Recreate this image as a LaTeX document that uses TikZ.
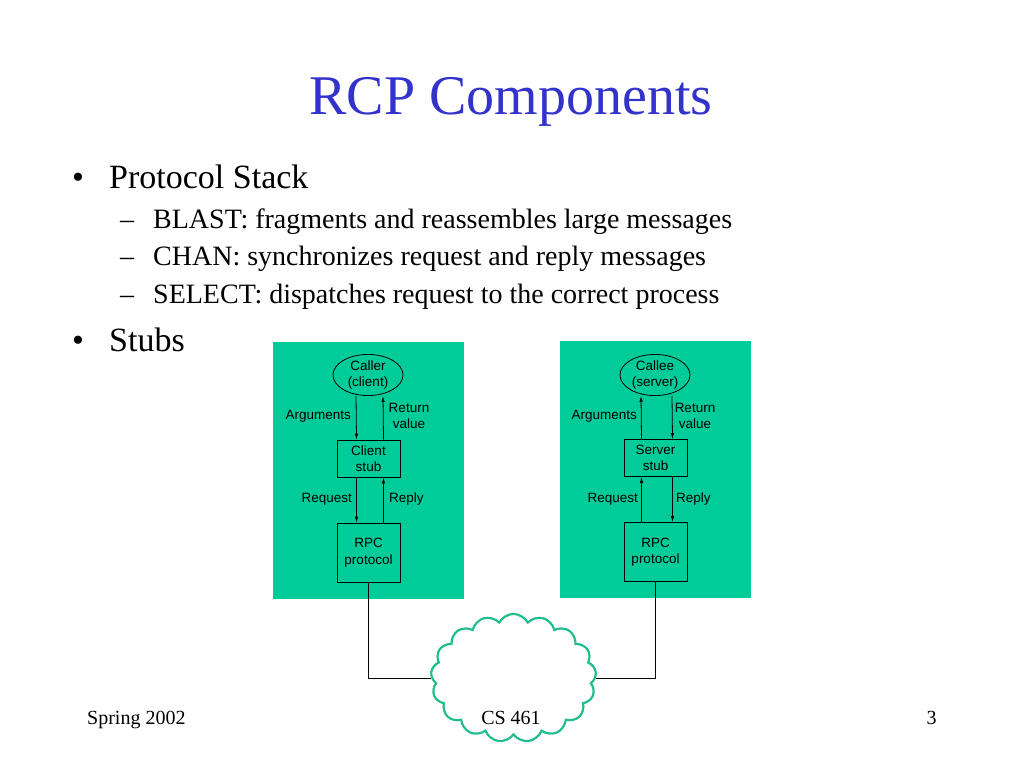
\documentclass[tikz,border=0pt]{standalone}
\usepackage{fontspec}
\setmainfont{Liberation Serif}
\newfontfamily\diagfont{Liberation Sans}
\usetikzlibrary{shapes.geometric,shapes.symbols,arrows.meta}
\definecolor{hostgreen}{RGB}{0,204,153}
\definecolor{cloudgreen}{RGB}{30,190,140}
\definecolor{titleblue}{RGB}{51,51,204}
\tikzset{
  hostbox/.style={fill=hostgreen},
  lbl/.style={font=\diagfont\fontsize{13.5}{16.5}\selectfont, inner sep=0, align=center},
  caller/.style={lbl, ellipse, draw, line width=0.8pt, minimum width=70, minimum height=39},
  stubbox/.style={lbl, draw, line width=0.8pt, minimum width=63, minimum height=37},
  rpcbox/.style={lbl, draw, line width=0.8pt, minimum width=63, minimum height=59},
  flow/.style={line width=0.8pt, -{Latex[length=6pt,width=3.5pt]}},
  netcloud/.style={cloud, cloud puffs=17, cloud puff arc=125, aspect=1.3, draw=cloudgreen, line width=2pt, minimum width=165, minimum height=128, inner sep=0},
  bigitem/.style={anchor=base west, inner sep=0, font=\fontsize{34}{40}\selectfont},
  subitem/.style={anchor=base west, inner sep=0, font=\fontsize{28}{34}\selectfont},
  foot/.style={anchor=base, inner sep=0, font=\fontsize{20}{24}\selectfont}
}
\begin{document}
\begin{tikzpicture}[x=1pt,y=-1pt]
  \useasboundingbox (0,0) rectangle (1024,768);
  % slide text
  \node[anchor=base, inner sep=0, text=titleblue, font=\fontsize{56}{64}\selectfont] (title) at (511,114) {RCP Components};
  \node[bigitem] (dot1) at (72,188) {\textbullet};
  \node[bigitem] (stack) at (109,188) {Protocol Stack};
  \node[subitem] (dash1) at (120,228) {--};
  \node[subitem] (blast) at (153,228) {BLAST: fragments and reassembles large messages};
  \node[subitem] (dash2) at (120,265) {--};
  \node[subitem] (chan) at (153,265) {CHAN: synchronizes request and reply messages};
  \node[subitem] (dash3) at (120,303) {--};
  \node[subitem] (select) at (153,303) {SELECT: dispatches request to the correct process};
  \node[bigitem] (dot2) at (72,351) {\textbullet};
  \node[bigitem] (stubs) at (109,351) {Stubs};
  % hosts
  \fill[hostbox] (273,342) rectangle (464,599);
  \fill[hostbox] (560,341) rectangle (751,598);
  \node[caller] (caller) at (368,375) {Caller\\(client)};
  \node[stubbox] (cstub) at (368.5,458.5) {Client\\stub};
  \node[rpcbox] (crpc) at (368.5,552.5) {RPC\\protocol};
  \node[caller] (callee) at (655,375) {Callee\\(server)};
  \node[stubbox] (sstub) at (655.5,458) {Server\\stub};
  \node[rpcbox] (srpc) at (655.5,552) {RPC\\protocol};
  \begin{scope}
    \draw[flow] ([xshift=-12]caller.south) -- ([xshift=-12]cstub.north);
    \draw[flow] ([xshift=15]cstub.north) -- ([xshift=15]caller.south);
    \draw[flow] ([xshift=-12]cstub.south) -- ([xshift=-12]crpc.north);
    \draw[flow] ([xshift=15]crpc.north) -- ([xshift=15]cstub.south);
    \draw[flow] ([xshift=-14]sstub.north) -- ([xshift=-14]callee.south);
    \draw[flow] ([xshift=17]callee.south) -- ([xshift=17]sstub.north);
    \draw[flow] ([xshift=-14]srpc.north) -- ([xshift=-14]sstub.south);
    \draw[flow] ([xshift=17]sstub.south) -- ([xshift=17]srpc.north);
  \end{scope}
  \node[lbl, anchor=east] (cargs) at (351,416) {Arguments};
  \node[lbl] (cret) at (409,416) {Return\\value};
  \node[lbl, anchor=east] (creq) at (352,499) {Request};
  \node[lbl, anchor=west] (crep) at (389,499) {Reply};
  \node[lbl, anchor=east] (sargs) at (637,416) {Arguments};
  \node[lbl] (sret) at (695,416) {Return\\value};
  \node[lbl, anchor=east] (sreq) at (638,499) {Request};
  \node[lbl, anchor=west] (srep) at (676,499) {Reply};
  % network
  \node[netcloud] (net) at (513.5,678) {};
  \begin{scope}[line width=0.8pt]
    \draw (crpc.south) |- (net.west);
    \draw (srpc.south) |- (net.east);
  \end{scope}
  \node[netcloud, fill=white] at (513.5,678) {};
  % footer
  \node[foot, anchor=base west] (season) at (87,724) {Spring 2002};
  \node[foot] (course) at (511,724) {CS 461};
  \node[foot] (page) at (931.5,724) {3};
\end{tikzpicture}
\end{document}
